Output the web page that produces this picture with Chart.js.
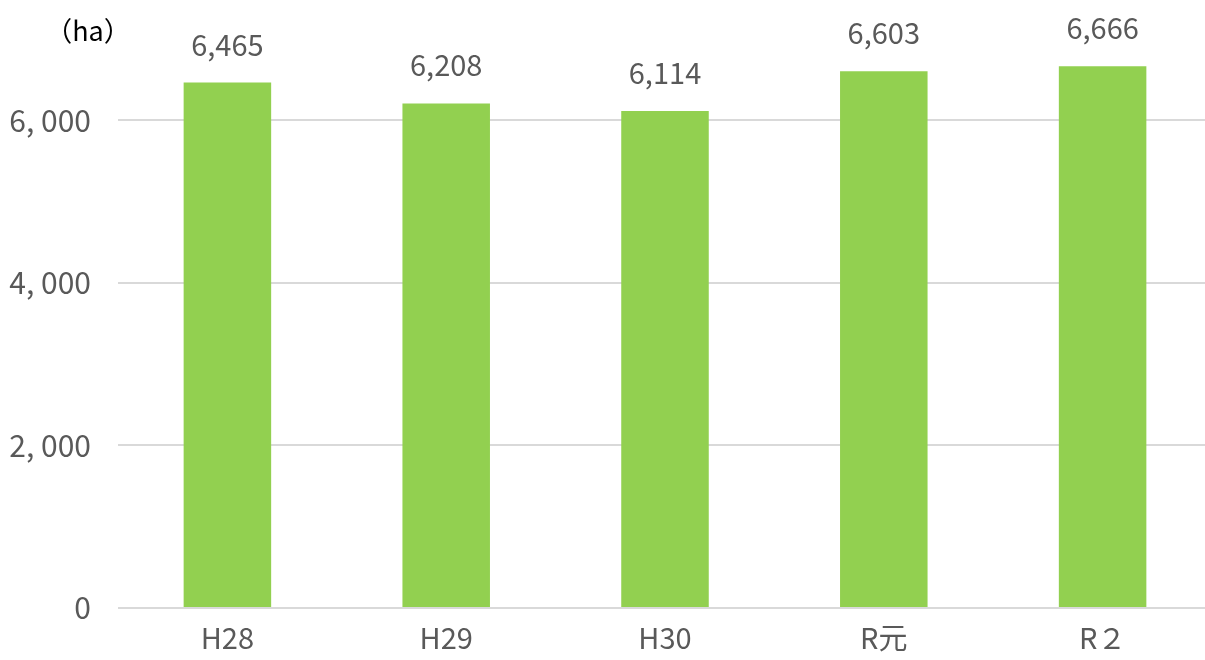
<!DOCTYPE html>
<html>
<head>
<meta charset="utf-8">
<script src="https://cdn.jsdelivr.net/npm/chart.js@4"></script>
<style>
html,body{margin:0;padding:0;background:#fff;overflow:hidden;}
#wrap{width:1205px;height:660px;overflow:hidden;}
</style>
</head>
<body>
<div id="wrap"><canvas id="c" width="1212" height="660"></canvas></div>
<script>
const categories = ["H28", "H29", "H30", "R元", "R２"];
const values = [6465, 6208, 6114, 6603, 6666];
const tickValues = [0, 2000, 4000, 6000];
const tickLabels = ["0", "2, 000", "4, 000", "6, 000"];
const unitLabel = "（ha）";

const FONT = "'Noto Sans CJK JP', 'Noto Sans', sans-serif";

const labelPlugin = {
  id: 'labels',
  afterDatasetsDraw(chart) {
    const ctx = chart.ctx;
    const meta = chart.getDatasetMeta(0);
    ctx.save();
    ctx.fillStyle = '#595959';
    ctx.font = '29px ' + FONT;
    ctx.textAlign = 'center';
    ctx.textBaseline = 'middle';
    meta.data.forEach((bar, i) => {
      ctx.fillText(values[i].toLocaleString('en-US'), bar.x, bar.y - 38);
    });
    ctx.fillStyle = '#000';
    ctx.font = '27px ' + FONT;
    ctx.fillText(unitLabel, 88, 31);
    ctx.restore();
  }
};

new Chart(document.getElementById('c'), {
  type: 'bar',
  data: {
    labels: categories,
    datasets: [{
      data: values,
      backgroundColor: '#92D050',
      borderWidth: 0,
      categoryPercentage: 1,
      barPercentage: 0.4
    }]
  },
  options: {
    responsive: false,
    animation: false,
    layout: { padding: { top: 39, right: 0, left: 0, bottom: 0 } },
    plugins: { legend: { display: false }, tooltip: { enabled: false } },
    scales: {
      x: {
        grid: { display: false, drawTicks: false },
        border: { display: false },
        ticks: { color: '#595959', font: { size: 29, family: FONT }, padding: 13 },
        afterFit(s) { s.height = 52; }
      },
      y: {
        min: 0,
        max: 7000,
        afterBuildTicks(s) { s.ticks = tickValues.map(v => ({ value: v })); },
        grid: { color: '#d9d9d9', lineWidth: 2, drawTicks: false },
        border: { display: false },
        ticks: {
          color: '#595959',
          font: { size: 30, family: FONT },
          padding: 27,
          callback(v) { const i = tickValues.indexOf(v); return i >= 0 ? tickLabels[i] : ''; }
        },
        afterFit(s) { s.width = 118; s.paddingTop = 0; s.paddingBottom = 0; }
      }
    }
  },
  plugins: [labelPlugin]
});
</script>
</body>
</html>
